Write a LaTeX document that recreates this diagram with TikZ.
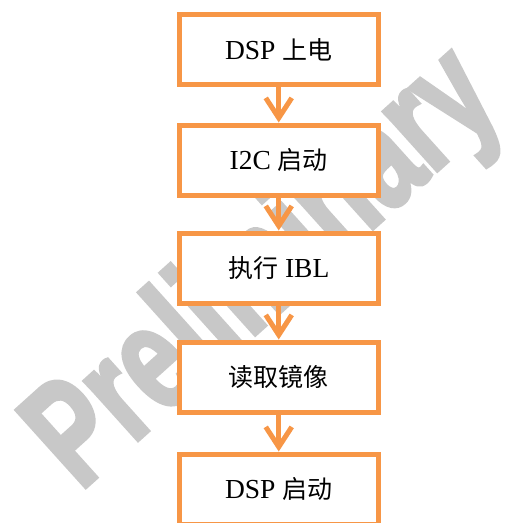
\documentclass[tikz,border=0pt]{standalone}
\usepackage{fontspec}
\setmainfont{Liberation Serif}
\newfontfamily\cjk{Noto Sans CJK SC}
\newfontfamily\wmfont{Liberation Sans Bold}[FakeBold=3]
\usetikzlibrary{arrows.meta}
\definecolor{boxorange}{HTML}{F79646}
\definecolor{wmgray}{RGB}{200,200,200}
\tikzset{
  flowbox/.style={draw=boxorange, line width=5pt, fill=white, minimum width=199.5pt,
    minimum height=70pt, inner sep=0pt, font=\fontsize{27.5}{30}\selectfont},
  flowarrow/.style={draw=boxorange, line width=5pt,
    -{Straight Barb[length=20pt,width=26pt,line width=5pt]}},
  wmtext/.style={anchor=base west, rotate=42, inner sep=0pt, text=wmgray}
}
\newcommand{\zh}[1]{{\cjk\fontsize{25}{30}\selectfont #1}}
\begin{document}
\begin{tikzpicture}[x=1pt,y=-1pt]
\useasboundingbox (0,0) rectangle (520,523);
\clip (0,0) rectangle (520,523);
\node[wmtext] (wm) at (80,492) {\scalebox{0.70}[1]{\wmfont\fontsize{150}{150}\selectfont Preliminary}};
\node[flowbox] (b1) at (278.75,49.75) {DSP \zh{上电}};
\node[flowbox] (b2) at (278.75,160) {I2C \zh{启动}};
\node[flowbox] (b3) at (278.75,268) {\zh{执行} IBL};
\node[flowbox] (b4) at (278.75,377) {\zh{读取镜像}};
\node[flowbox] (b5) at (278.75,489) {DSP \zh{启动}};
\draw[flowarrow] (b1) -- (b2);
\draw[flowarrow] (b2) -- (b3);
\draw[flowarrow] (b3) -- (b4);
\draw[flowarrow] (b4) -- (b5);
\end{tikzpicture}
\end{document}
